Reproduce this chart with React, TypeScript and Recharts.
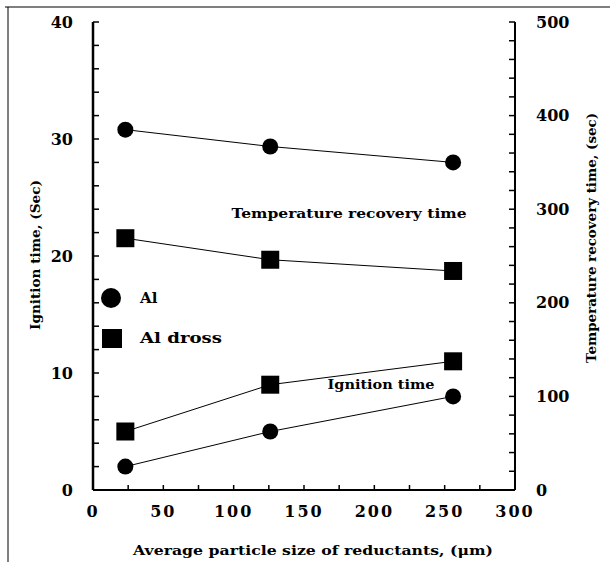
import React from 'react';
import { ComposedChart, Line, XAxis, YAxis } from 'recharts';

// particle size (um) and measured times
const sizes = [23, 126, 256];
const alIgnition = [2, 5, 8];
const drossIgnition = [5, 9, 11];
const alRecovery = [385, 367, 350];
const drossRecovery = [269, 246, 234];

const xTicks = [0, 25, 50, 75, 100, 125, 150, 175, 200, 225, 250, 275, 300];
const leftTicks = [0, 2, 4, 6, 8, 10, 12, 14, 16, 18, 20, 22, 24, 26, 28, 30, 32, 34, 36, 38, 40];
const rightTicks = [0, 20, 40, 60, 80, 100, 120, 140, 160, 180, 200, 220, 240, 260, 280, 300, 320, 340, 360, 380, 400, 420, 440, 460, 480, 500];

const data = sizes.map((s, i) => ({
  size: s,
  alIgn: alIgnition[i],
  drossIgn: drossIgnition[i],
  alRec: alRecovery[i],
  drossRec: drossRecovery[i],
}));

const FONT = 'DejaVu Serif';
const tickText = { fontFamily: FONT, fontWeight: 700, fontSize: 16, fill: '#000' };

const LeftTick = (props: any) => {
  const { x, y, payload } = props;
  const ax = x + 20;
  return (
    <g>
      <line x1={ax} x2={ax + 6} y1={y} y2={y} stroke="#000" strokeWidth={1.5} />
      {payload.value % 10 === 0 && (
        <text x={x} y={y} dy="0.35em" textAnchor="end" fontFamily={FONT} style={tickText}>{payload.value}</text>
      )}
    </g>
  );
};

const RightTick = (props: any) => {
  const { x, y, payload } = props;
  const ax = x - 21;
  return (
    <g>
      <line x1={ax} x2={ax - 6} y1={y} y2={y} stroke="#000" strokeWidth={1.5} />
      {payload.value % 100 === 0 && (
        <text x={x} y={y} dy="0.35em" textAnchor="start" fontFamily={FONT} style={tickText}>{payload.value}</text>
      )}
    </g>
  );
};

const BottomTick = (props: any) => {
  const { x, y, payload } = props;
  const ay = y - 16;
  return (
    <g>
      <line x1={x} x2={x} y1={ay} y2={ay - 5} stroke="#000" strokeWidth={1.5} />
      {payload.value % 50 === 0 && (
        <text x={x} y={y} dy="0.71em" textAnchor="middle" fontFamily={FONT} style={{ ...tickText, letterSpacing: 2 }}>{payload.value}</text>
      )}
    </g>
  );
};

const circleDot = (props: any) => (
  <circle key={`c-${props.index}`} cx={props.cx} cy={props.cy} r={8} fill="#000" />
);
const squareDot = (props: any) => (
  <rect key={`s-${props.index}`} x={props.cx - 9} y={props.cy - 9} width={18} height={18} fill="#000" />
);

const App: React.FC = () => {
  const label = { fontFamily: FONT, fontWeight: 700, fontSize: 13, fill: '#000' };
  return (
    <div style={{ position: 'absolute', left: 0, top: 0, width: 610, height: 562, background: '#fff' }}>
      <ComposedChart width={610} height={562} data={data} margin={{ top: 22, right: 35, bottom: 42, left: 33 }}>
        <XAxis
          dataKey="size"
          type="number"
          domain={[0, 300]}
          ticks={xTicks}
          interval={0}
          tickSize={0}
          tickMargin={16}
          height={30}
          axisLine={{ stroke: '#000', strokeWidth: 2 }}
          tickLine={false}
          tick={(p: any) => <BottomTick {...p} />}
        />
        <XAxis xAxisId="top" orientation="top" dataKey="size" type="number" domain={[0, 300]} height={0} tick={false} tickLine={false} axisLine={{ stroke: '#000', strokeWidth: 1.5 }} />
        <YAxis
          yAxisId="left"
          domain={[0, 40]}
          ticks={leftTicks}
          interval={0}
          tickSize={0}
          tickMargin={20}
          width={60}
          axisLine={{ stroke: '#000', strokeWidth: 2.5 }}
          tickLine={false}
          tick={(p: any) => <LeftTick {...p} />}
        />
        <YAxis
          yAxisId="right"
          orientation="right"
          domain={[0, 500]}
          ticks={rightTicks}
          interval={0}
          tickSize={0}
          tickMargin={21}
          width={60}
          axisLine={{ stroke: '#000', strokeWidth: 2 }}
          tickLine={false}
          tick={(p: any) => <RightTick {...p} />}
        />
        <Line yAxisId="right" dataKey="alRec" stroke="#000" strokeWidth={1} dot={circleDot} isAnimationActive={false} />
        <Line yAxisId="right" dataKey="drossRec" stroke="#000" strokeWidth={1} dot={squareDot} isAnimationActive={false} />
        <Line yAxisId="left" dataKey="alIgn" stroke="#000" strokeWidth={1} dot={circleDot} isAnimationActive={false} />
        <Line yAxisId="left" dataKey="drossIgn" stroke="#000" strokeWidth={1} dot={squareDot} isAnimationActive={false} />
      </ComposedChart>
      <svg width={610} height={562} fontFamily={FONT} style={{ position: 'absolute', left: 0, top: 0, pointerEvents: 'none' }}>
        {/* outer frame of the scanned figure */}
        <line x1={5} x2={610} y1={7} y2={7} stroke="#000" strokeWidth={1} />
        <line x1={8} x2={8} y1={7} y2={562} stroke="#000" strokeWidth={1} />
        <text x={349} y={213} dy="0.35em" textAnchor="middle" textLength={235} lengthAdjust="spacingAndGlyphs" style={label}>Temperature recovery time</text>
        <text x={381} y={384} dy="0.35em" textAnchor="middle" textLength={107} lengthAdjust="spacingAndGlyphs" style={label}>Ignition time</text>
        <circle cx={111} cy={298} r={10} fill="#000" />
        <text x={140} y={298} dy="0.35em" style={{ ...label, fontSize: 15 }}>Al</text>
        <rect x={102} y={329} width={20} height={19} fill="#000" />
        <text x={140} y={338} dy="0.35em" textLength={82} lengthAdjust="spacingAndGlyphs" style={{ ...label, fontSize: 15 }}>Al dross</text>
        <text x={313} y={550} dy="0.35em" textAnchor="middle" textLength={360} lengthAdjust="spacingAndGlyphs" style={label}>Average particle size of reductants, (μm)</text>
        <text transform="translate(35,255) rotate(-90)" dy="0.35em" textAnchor="middle" textLength={150} lengthAdjust="spacingAndGlyphs" style={{ ...label, fontSize: 13 }}>Ignition time, (Sec)</text>
        <text transform="translate(591,238) rotate(-90)" dy="0.35em" textAnchor="middle" textLength={250} lengthAdjust="spacingAndGlyphs" style={{ ...label, fontSize: 13 }}>Temperature recovery time, (sec)</text>
      </svg>
    </div>
  );
};

export default App;
